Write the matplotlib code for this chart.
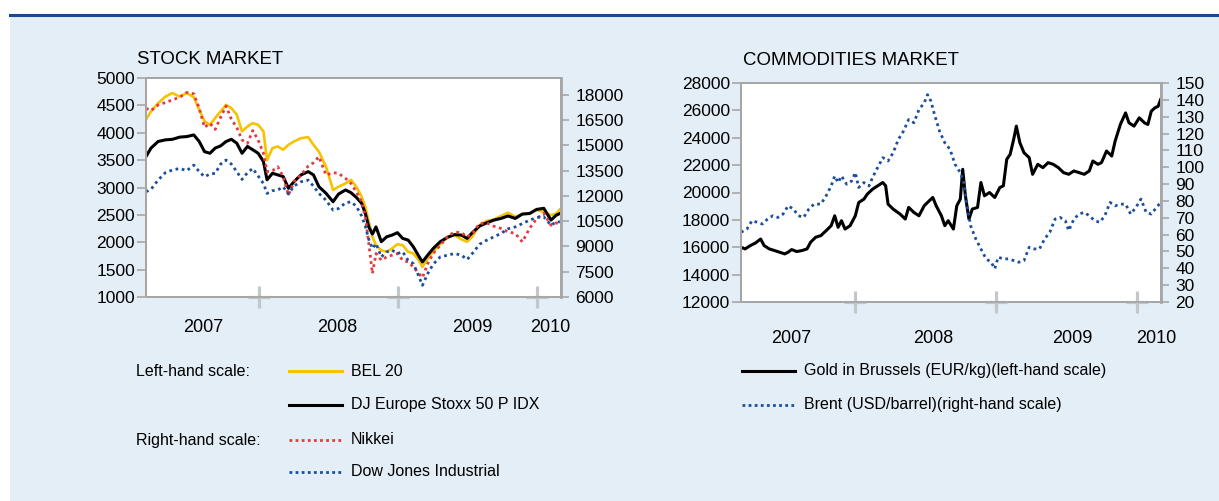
import numpy as np
import matplotlib.pyplot as plt
from matplotlib.lines import Line2D
from matplotlib.patches import Rectangle

plt.rcParams['font.family'] = ['Liberation Sans', 'DejaVu Sans']

# ---- stock market (decimal years) ----
stock_t = [2007.187, 2007.223, 2007.274, 2007.326, 2007.377, 2007.429, 2007.480, 2007.531, 2007.570, 2007.608,
           2007.647, 2007.685, 2007.724, 2007.763, 2007.801, 2007.840, 2007.878, 2007.917, 2007.955, 2007.994,
           2008.032, 2008.058, 2008.097, 2008.135, 2008.174, 2008.212, 2008.251, 2008.302, 2008.354, 2008.392,
           2008.431, 2008.482, 2008.533, 2008.572, 2008.623, 2008.662, 2008.700, 2008.739, 2008.765, 2008.790,
           2008.816, 2008.842, 2008.880, 2008.919, 2008.957, 2008.996, 2009.034, 2009.073, 2009.111, 2009.150,
           2009.176, 2009.214, 2009.253, 2009.304, 2009.356, 2009.407, 2009.458, 2009.497, 2009.535, 2009.587,
           2009.638, 2009.690, 2009.741, 2009.792, 2009.844, 2009.895, 2009.947, 2009.998, 2010.049, 2010.101,
           2010.139, 2010.165]
bel20 = [4240, 4390, 4540, 4660, 4725, 4660, 4725, 4650, 4420, 4210,
         4145, 4270, 4390, 4510, 4450, 4330, 4025, 4115, 4175, 4145,
         4025, 3500, 3720, 3750, 3690, 3780, 3840, 3900, 3920, 3780,
         3655, 3380, 2955, 3015, 3075, 3140, 3015, 2830, 2650, 2375,
         2100, 1945, 1855, 1825, 1885, 1965, 1945, 1825, 1795, 1670,
         1550, 1700, 1825, 1965, 2090, 2130, 2050, 2010, 2100, 2315,
         2390, 2415, 2480, 2540, 2465, 2515, 2525, 2590, 2555, 2495,
         2525, 2600]
stoxx50 = [3565, 3720, 3840, 3870, 3880, 3920, 3930, 3960, 3840, 3655,
           3625, 3720, 3760, 3840, 3880, 3810, 3625, 3750, 3690, 3625,
           3475, 3140, 3260, 3230, 3200, 2985, 3105, 3230, 3290, 3230,
           3015, 2895, 2740, 2880, 2955, 2905, 2820, 2710, 2525, 2280,
           2150, 2280, 2010, 2100, 2130, 2175, 2070, 2040, 1915, 1745,
           1640, 1765, 1885, 2010, 2090, 2140, 2130, 2070, 2175, 2295,
           2355, 2405, 2435, 2480, 2435, 2515, 2525, 2600, 2620, 2405,
           2495, 2525]
nikkei = [17200, 17065, 17400, 17540, 17700, 17860, 18140, 18060, 17200, 16070,
          16310, 15950, 16670, 17340, 16550, 16070, 15320, 15120, 15880, 15320,
          14530, 13440, 13500, 13730, 13140, 12050, 12840, 13240, 13770, 13970,
          14330, 13240, 13380, 13340, 13040, 12740, 12250, 11650, 10760, 9170,
          7390, 8580, 8180, 8380, 8480, 8580, 8180, 8080, 7785, 7390,
          7150, 7980, 8580, 9070, 9570, 9870, 9810, 9570, 9770, 10360,
          10400, 10200, 10070, 9870, 9770, 9270, 10070, 10660, 10960, 10260,
          10400, 10320]
dow_jones = [12250, 12390, 12940, 13380, 13540, 13630, 13500, 13830, 13440, 13140,
             13300, 13340, 13890, 14130, 13890, 13440, 12980, 13380, 13630, 13180,
             12740, 12150, 12310, 12350, 12540, 12110, 12580, 12840, 12940, 12580,
             12150, 11750, 11160, 11250, 11590, 11650, 11390, 10800, 10200, 9410,
             8880, 9170, 8380, 8680, 8780, 8580, 8680, 8180, 7980, 7230,
             6690, 7390, 7940, 8380, 8480, 8580, 8480, 8220, 8580, 9130,
             9370, 9570, 9770, 10050, 10160, 10360, 10560, 10720, 10760, 10260,
             10460, 10460]

# ---- commodities ----
gold_t = [2007.195, 2007.224, 2007.261, 2007.298, 2007.334, 2007.359, 2007.395, 2007.432, 2007.468, 2007.505,
          2007.529, 2007.554, 2007.590, 2007.627, 2007.663, 2007.688, 2007.724, 2007.761, 2007.798, 2007.834,
          2007.859, 2007.883, 2007.907, 2007.932, 2007.968, 2008.005, 2008.029, 2008.066, 2008.090, 2008.127,
          2008.163, 2008.200, 2008.220, 2008.237, 2008.273, 2008.322, 2008.359, 2008.383, 2008.420, 2008.456,
          2008.493, 2008.529, 2008.554, 2008.578, 2008.615, 2008.639, 2008.663, 2008.700, 2008.724, 2008.749,
          2008.766, 2008.785, 2008.810, 2008.834, 2008.871, 2008.895, 2008.920, 2008.956, 2008.993, 2009.029,
          2009.054, 2009.078, 2009.102, 2009.127, 2009.146, 2009.171, 2009.200, 2009.237, 2009.261, 2009.298,
          2009.334, 2009.371, 2009.407, 2009.444, 2009.480, 2009.517, 2009.554, 2009.590, 2009.627, 2009.663,
          2009.688, 2009.724, 2009.749, 2009.785, 2009.822, 2009.846, 2009.883, 2009.920, 2009.944, 2009.980,
          2010.017, 2010.054, 2010.078, 2010.102, 2010.127, 2010.151, 2010.168]
gold = [16000, 15880, 16120, 16315, 16600, 16120, 15880, 15760, 15640, 15515,
        15640, 15830, 15685, 15760, 15880, 16365, 16730, 16850, 17210, 17575,
        18300, 17455, 17940, 17330, 17575, 18300, 19270, 19515, 19880, 20240,
        20485, 20730, 20485, 19150, 18790, 18425, 18060, 18910, 18545, 18300,
        19030, 19395, 19635, 19030, 18300, 17575, 17940, 17330, 19030, 19515,
        21695, 19760, 18060, 18790, 18910, 20730, 19760, 20000, 19635, 20365,
        20485, 22425, 22785, 23880, 24850, 23635, 22910, 22545, 21330, 22060,
        21815, 22180, 22060, 21815, 21455, 21330, 21575, 21455, 21330, 21575,
        22300, 22060, 22180, 23030, 22665, 23755, 24970, 25815, 25090, 24850,
        25455, 25090, 24970, 25940, 26180, 26300, 26785]
brent_t = [2007.195, 2007.237, 2007.273, 2007.310, 2007.346, 2007.383, 2007.420, 2007.456, 2007.493, 2007.529,
           2007.566, 2007.602, 2007.639, 2007.676, 2007.712, 2007.761, 2007.798, 2007.834, 2007.859, 2007.883,
           2007.907, 2007.944, 2007.980, 2008.005, 2008.029, 2008.066, 2008.102, 2008.127, 2008.163, 2008.200,
           2008.237, 2008.273, 2008.310, 2008.346, 2008.383, 2008.420, 2008.456, 2008.493, 2008.517, 2008.541,
           2008.566, 2008.602, 2008.639, 2008.676, 2008.712, 2008.749, 2008.773, 2008.798, 2008.822, 2008.859,
           2008.895, 2008.932, 2008.968, 2008.993, 2009.017, 2009.054, 2009.090, 2009.127, 2009.163, 2009.200,
           2009.237, 2009.273, 2009.310, 2009.346, 2009.383, 2009.420, 2009.456, 2009.493, 2009.517, 2009.554,
           2009.590, 2009.627, 2009.663, 2009.700, 2009.737, 2009.773, 2009.810, 2009.846, 2009.883, 2009.920,
           2009.956, 2009.993, 2010.029, 2010.066, 2010.102, 2010.139, 2010.168]
brent = [61.4, 63.3, 68.3, 67.3, 66.3, 69.2, 71.2, 70.2, 72.2, 77.1,
         75.2, 71.2, 70.2, 75.2, 78.1, 78.1, 83.0, 88.9, 94.8, 90.9,
         94.8, 89.9, 91.9, 96.8, 88.0, 90.9, 88.9, 93.9, 99.8, 105.7,
         103.7, 108.6, 116.5, 121.4, 128.3, 126.4, 134.2, 138.2, 143.1, 139.2,
         131.3, 121.4, 114.5, 110.6, 101.7, 96.8, 90.9, 77.1, 65.3, 57.4,
         51.5, 45.6, 43.6, 39.7, 46.6, 45.6, 45.6, 44.6, 43.6, 44.6,
         52.5, 51.5, 51.5, 57.4, 61.4, 69.2, 70.2, 68.3, 62.4, 69.2,
         72.2, 73.2, 71.2, 68.3, 67.3, 71.2, 79.1, 77.1, 78.1, 78.1,
         72.2, 76.1, 81.1, 73.2, 72.2, 76.1, 79.1]

year_labels = ['2007', '2008', '2009', '2010']
year_breaks = [2008, 2009, 2010]

YELLOW = '#f6c300'
RED = '#e8383d'
BLUE = '#1b4f9c'
GRAY = '#a6a6a6'
BG = '#e3eef6'

W, H = 1219, 501
fig = plt.figure(figsize=(W / 100, H / 100), dpi=100)


def fx(px):
    return px / W


def fy(py):
    return 1 - py / H


fig.patches.append(Rectangle((fx(10), 0), 1 - fx(10), fy(16), transform=fig.transFigure,
                             facecolor=BG, edgecolor='none', zorder=-10))
fig.add_artist(Line2D([fx(10), 1], [fy(14.5), fy(14.5)], color='#174a8b', lw=2.2))


def make_axes(x0, x1, y0, y1):
    ax = fig.add_axes([fx(x0), fy(y1), fx(x1) - fx(x0), (y1 - y0) / H])
    axr = ax.twinx()
    for a in (ax, axr):
        for s in a.spines.values():
            s.set_color(GRAY)
            s.set_linewidth(1.3)
    axr.spines['right'].set_linewidth(2)
    ax.tick_params(axis='y', direction='out', length=6.5, width=1.2, color=GRAY, labelsize=12.5, pad=1.5)
    axr.tick_params(axis='y', direction='out', length=6, width=1.2, color=GRAY, labelsize=12.5, pad=4.5)
    return ax, axr


def year_axis(ax, xlim, label_pos, pad):
    ax.set_xlim(*xlim)
    ax.set_xticks(label_pos)
    ax.set_xticklabels(year_labels)
    ax.tick_params(axis='x', length=0, labelsize=13, pad=pad)
    ax.plot(year_breaks, [0] * 3, transform=ax.get_xaxis_transform(), ls='none', marker='+',
            ms=16, mew=2.3, color='#c2c7cc', clip_on=False, zorder=5)


# stock market
ax1, ax1r = make_axes(146, 561, 78, 297)
ax1.plot(stock_t, bel20, color=YELLOW, lw=1.9)
ax1.plot(stock_t, stoxx50, color='black', lw=2.2)
ax1r.plot(stock_t, nikkei, color=RED, lw=2, ls=(0, (1, 1.3)))
ax1r.plot(stock_t, dow_jones, color=BLUE, lw=2, ls=(0, (1, 1.3)))
ax1.set_ylim(1000, 5000)
ax1.set_yticks(range(1000, 5001, 500))
ax1r.set_ylim(6000, 19000)
ax1r.set_yticks(range(6000, 18001, 1500))
year_axis(ax1, (2007.187, 2010.173), [2007.597, 2008.561, 2009.537, 2010.093], 16)
fig.text(fx(137), fy(64), 'STOCK MARKET', fontsize=13.4, va='baseline')

# commodities
ax2, ax2r = make_axes(741, 1161, 83, 302)
ax2.plot(gold_t, gold, color='black', lw=2.2)
ax2r.plot(brent_t, brent, color=BLUE, lw=2, ls=(0, (1, 1.3)))
ax2.set_ylim(12000, 28000)
ax2.set_yticks(range(12000, 28001, 2000))
ax2r.set_ylim(20, 150)
ax2r.set_yticks(range(20, 151, 10))
year_axis(ax2, (2007.195, 2010.171), [2007.554, 2008.559, 2009.545, 2010.134], 20)
fig.text(fx(743), fy(65), 'COMMODITIES MARKET', fontsize=13.4, va='baseline')

# legends drawn by hand
def legend_row(x_line, y, color, text, dotted=False, width=2.2):
    ls = (0, (1, 1.2)) if dotted else '-'
    fig.add_artist(Line2D([fx(x_line), fx(x_line + 53)], [fy(y), fy(y)], color=color, lw=width, ls=ls))
    fig.text(fx(x_line + 62), fy(y), text, fontsize=11.5, va='center')


fig.text(fx(136), fy(372), 'Left-hand scale:', fontsize=11.5, va='center')
fig.text(fx(136), fy(440), 'Right-hand scale:', fontsize=11.5, va='center')
legend_row(289, 371, YELLOW, 'BEL 20')
legend_row(289, 405, 'black', 'DJ Europe Stoxx 50 P IDX')
legend_row(289, 440, RED, 'Nikkei', dotted=True, width=2)
legend_row(289, 472, BLUE, 'Dow Jones Industrial', dotted=True, width=2)

legend_row(742, 371, 'black', 'Gold in Brussels (EUR/kg)(left-hand scale)')
legend_row(742, 405, BLUE, 'Brent (USD/barrel)(right-hand scale)', dotted=True, width=2)

fig.savefig('out.png', dpi=100)
